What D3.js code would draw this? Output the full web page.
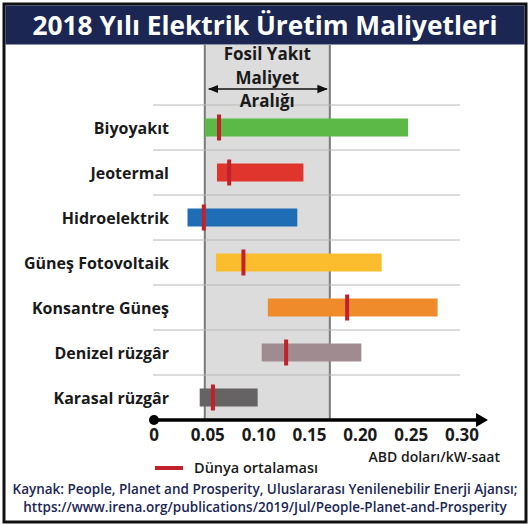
<!DOCTYPE html>
<meta charset="utf-8">
<html>
<head>
<style>
  body { margin: 0; background: #fff; }
  text { font-family: "Open Sans", "Noto Sans", sans-serif; }
</style>
</head>
<body>
<div id="chart"></div>
<script src="https://d3js.org/d3.v7.min.js"></script>
<script>
  // data (ABD doları/kW-saat)
  var sources = ["Biyoyakıt", "Jeotermal", "Hidroelektrik", "Güneş Fotovoltaik",
                 "Konsantre Güneş", "Denizel rüzgâr", "Karasal rüzgâr"];
  var lows  = [0.047, 0.059, 0.030, 0.058, 0.109, 0.103, 0.042];
  var highs = [0.247, 0.144, 0.138, 0.221, 0.276, 0.201, 0.099];
  var means = [0.061, 0.071, 0.046, 0.085, 0.187, 0.127, 0.055];
  var colors = ["#5cb947", "#e0352c", "#1f6db4", "#fbbd2e", "#f08b2c", "#a08c90", "#656363"];
  var ticks = [0, 0.05, 0.10, 0.15, 0.20, 0.25, 0.30];
  var tickLabels = ["0", "0.05", "0.10", "0.15", "0.20", "0.25", "0.30"];
  var fossilRange = [0.047, 0.170];

  var W = 530, H = 524;
  var svg = d3.select("#chart").append("svg")
      .attr("width", W).attr("height", H);

  var x = d3.scaleLinear().domain([0, 0.3]).range([157, 462]);
  var y = d3.scaleBand().domain(sources).range([105, 420]);

  // frame
  svg.append("rect")
    .attr("x", 4).attr("y", 4).attr("width", W - 8).attr("height", H - 6)
    .attr("fill", "#fff").attr("stroke", "#111").attr("stroke-width", 3);

  // title bar
  svg.append("rect")
    .attr("x", 5.5).attr("y", 5.5).attr("width", W - 11).attr("height", 39)
    .attr("fill", "#1b2653");
  svg.append("text")
    .attr("x", W / 2).attr("y", 35)
    .attr("text-anchor", "middle")
    .attr("fill", "#fff").attr("font-size", 26.3).attr("font-weight", "bold")
    .text("2018 Yılı Elektrik Üretim Maliyetleri");

  // fossil fuel band
  svg.append("rect")
    .attr("x", x(fossilRange[0])).attr("y", 45)
    .attr("width", x(fossilRange[1]) - x(fossilRange[0]))
    .attr("height", 375)
    .attr("fill", "#dcdcdc");
  svg.selectAll(".edge").data(fossilRange).enter().append("line")
    .attr("x1", function(d) { return x(d); }).attr("x2", function(d) { return x(d); })
    .attr("y1", 45).attr("y2", 420)
    .attr("stroke", "#7a7a7a").attr("stroke-width", 2);

  // row gridlines
  svg.selectAll(".grid").data(sources).enter().append("line")
    .attr("x1", 153).attr("x2", 460)
    .attr("y1", function(d) { return y(d); }).attr("y2", function(d) { return y(d); })
    .attr("stroke", "#b8b8b8").attr("stroke-width", 1);

  // fossil label + arrow
  var fx = (x(fossilRange[0]) + x(fossilRange[1])) / 2;
  svg.append("defs").append("marker")
    .attr("id", "ah").attr("viewBox", "0 0 10 10")
    .attr("refX", 9).attr("refY", 5)
    .attr("markerWidth", 7).attr("markerHeight", 7)
    .attr("orient", "auto-start-reverse")
    .append("path").attr("d", "M0,1 L10,5 L0,9 Z").attr("fill", "#111");
  svg.append("line")
    .attr("x1", x(fossilRange[0]) + 4).attr("x2", x(fossilRange[1]) - 3)
    .attr("y1", 89).attr("y2", 89)
    .attr("stroke", "#111").attr("stroke-width", 1.5)
    .attr("marker-start", "url(#ah)").attr("marker-end", "url(#ah)");
  [["Fosil Yakıt", 60], ["Maliyet", 84], ["Aralığı", 107]].forEach(function(t) {
    svg.append("text")
      .attr("x", fx).attr("y", t[1])
      .attr("text-anchor", "middle")
      .attr("font-size", 17).attr("font-weight", "bold").attr("fill", "#1a1a1a")
      .text(t[0]);
  });

  // bars
  var bh = 18;
  var rows = svg.selectAll(".row").data(sources).enter().append("g");
  rows.append("rect")
    .attr("x", function(d, i) { return x(lows[i]); })
    .attr("y", function(d) { return y(d) + y.bandwidth() / 2 - bh / 2; })
    .attr("width", function(d, i) { return x(highs[i]) - x(lows[i]); })
    .attr("height", bh)
    .attr("fill", function(d, i) { return colors[i]; });
  rows.append("rect")
    .attr("x", function(d, i) { return x(means[i]) - 2; })
    .attr("y", function(d) { return y(d) + y.bandwidth() / 2 - 13; })
    .attr("width", 4).attr("height", 26)
    .attr("fill", "#c2202b");
  rows.append("text")
    .attr("x", 169)
    .attr("y", function(d) { return y(d) + y.bandwidth() / 2 + 6; })
    .attr("text-anchor", "end")
    .attr("font-size", 16).attr("font-weight", "bold").attr("fill", "#1a1a1a")
    .text(function(d) { return d; });

  // x axis with dot and arrow
  svg.append("line")
    .attr("x1", 154).attr("x2", 478).attr("y1", 420).attr("y2", 420)
    .attr("stroke", "#000").attr("stroke-width", 3.5);
  svg.append("path")
    .attr("d", "M476,413 L488,420 L476,427 Z").attr("fill", "#000");
  svg.append("circle").attr("cx", 154).attr("cy", 420).attr("r", 5).attr("fill", "#000");
  svg.selectAll(".tick").data(ticks).enter().append("text")
    .attr("x", function(d) { return d === 0 ? x(d) - 3 : x(d); })
    .attr("y", 441)
    .attr("text-anchor", "middle")
    .attr("font-size", 17).attr("font-weight", "bold").attr("fill", "#1a1a1a")
    .text(function(d, i) { return tickLabels[i]; });
  svg.append("text")
    .attr("x", 500).attr("y", 462)
    .attr("text-anchor", "end")
    .attr("font-size", 14).attr("font-weight", 600).attr("fill", "#1a1a1a")
    .text("ABD doları/kW-saat");

  // legend
  svg.append("line")
    .attr("x1", 155).attr("x2", 183).attr("y1", 468).attr("y2", 468)
    .attr("stroke", "#c2202b").attr("stroke-width", 4);
  svg.append("text")
    .attr("x", 194).attr("y", 473)
    .attr("font-size", 14.5).attr("font-weight", 600).attr("fill", "#1a1a1a")
    .text("Dünya ortalaması");

  // source
  svg.append("text")
    .attr("x", W / 2).attr("y", 494)
    .attr("text-anchor", "middle")
    .attr("font-size", 13.5).attr("font-weight", 600).attr("fill", "#1b2653")
    .text("Kaynak: People, Planet and Prosperity, Uluslararası Yenilenebilir Enerji Ajansı;");
  svg.append("text")
    .attr("x", W / 2).attr("y", 512)
    .attr("text-anchor", "middle")
    .attr("font-size", 13.5).attr("font-weight", 600).attr("fill", "#1b2653")
    .text("https://www.irena.org/publications/2019/Jul/People-Planet-and-Prosperity");
</script>
</body>
</html>
